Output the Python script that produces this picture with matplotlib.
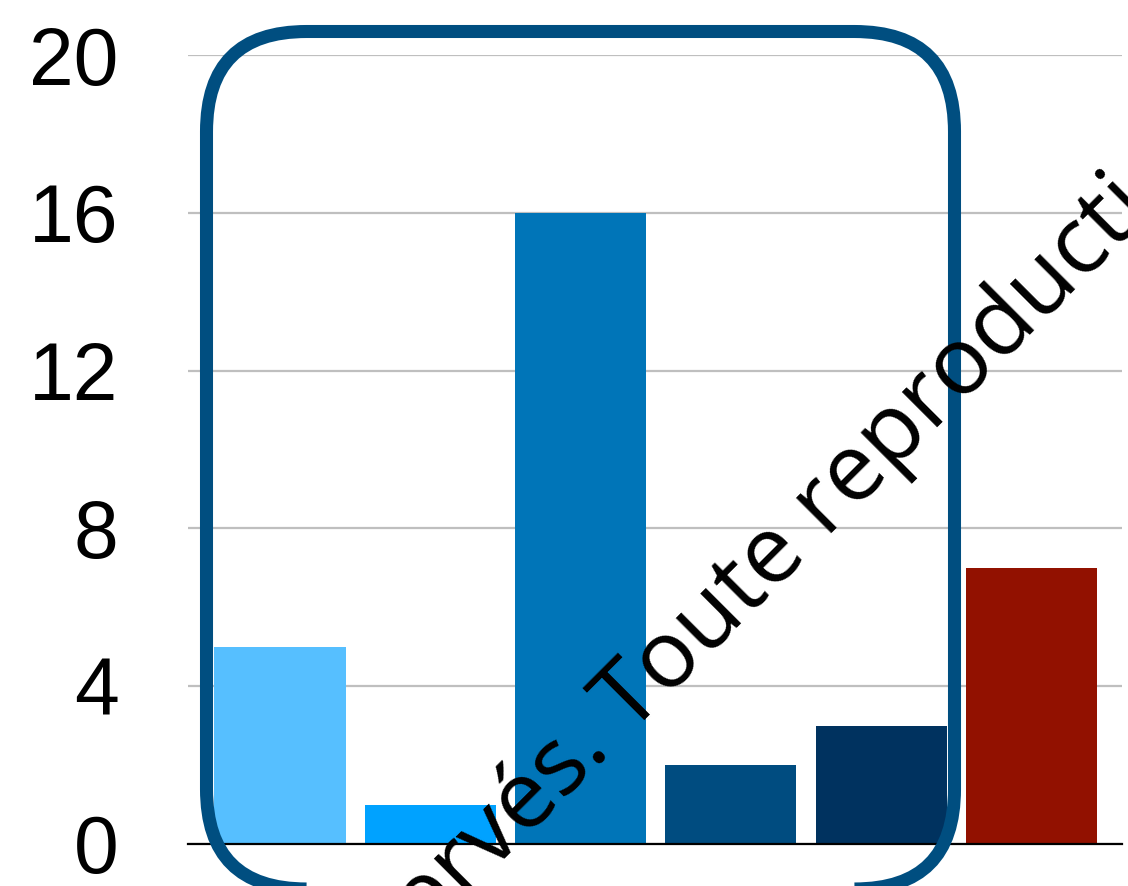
import matplotlib
matplotlib.use("Agg")
import matplotlib.pyplot as plt
from matplotlib.patches import FancyBboxPatch
from matplotlib.transforms import IdentityTransform

categories = ["A", "B", "C", "D", "E", "F"]
values = [5, 1, 16, 2, 3, 7]
colors = ["#56BFFF", "#00A2FF", "#0075B8", "#004C80", "#00325F", "#921100"]
yticks = [0, 4, 8, 12, 16, 20]

W, H = 1128, 886
fig = plt.figure(figsize=(W / 100, H / 100), dpi=100)
ax = fig.add_axes([188 / W, 42 / H, (1122 - 188) / W, (844 - 55) / H])

x = list(range(len(categories)))
ax.bar(x, values, width=0.872, color=colors, zorder=2)
ax.set_xlim(-0.612, 5.602)
ax.set_ylim(0, 20)
ax.set_yticks(yticks)
ax.set_yticklabels([str(t) for t in yticks], fontsize=58, family="Liberation Sans")
ax.set_xticks([])
ax.tick_params(axis="y", length=0, pad=50)
ax.yaxis.grid(True, color="#BFBFBF", linewidth=1.6, zorder=0)
ax.set_axisbelow(True)
for s in ["left", "right", "top"]:
    ax.spines[s].set_visible(False)
ax.spines["bottom"].set_color("black")
ax.spines["bottom"].set_linewidth(1.6)
ax.spines["bottom"].set_zorder(3)

# rounded highlight box (display pixel coords, origin bottom-left)
left, right, top, bottom = 206.5, 954.5, 854.5, -3
box = FancyBboxPatch((left, bottom), right - left, top - bottom,
                     boxstyle="round,pad=0,rounding_size=100",
                     transform=IdentityTransform(), fill=False,
                     edgecolor="#004E80", linewidth=9.4, zorder=5)
fig.add_artist(box)

# watermark
fs = 68
fig.text(612 / W, 1 - 752 / H, "Tous droits réservés.", rotation=45,
         rotation_mode="anchor", ha="right", va="baseline", fontsize=fs,
         family="Open Sans", color="black", zorder=6)
fig.text(629 / W, 1 - 735 / H, "Toute reproduction interdite", rotation=45,
         rotation_mode="anchor", ha="left", va="baseline", fontsize=fs,
         family="Open Sans", color="black", zorder=6)

fig.savefig("out.png", dpi=100)
